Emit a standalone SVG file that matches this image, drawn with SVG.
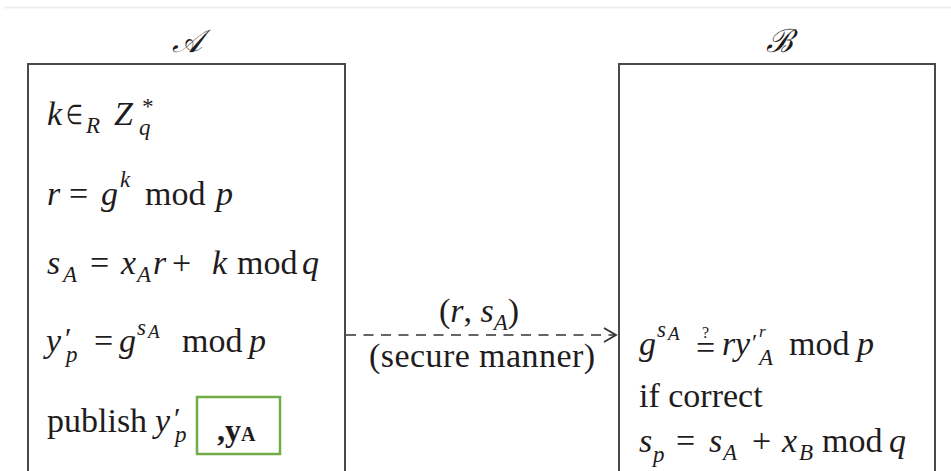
<svg xmlns="http://www.w3.org/2000/svg" width="951" height="471" viewBox="0 0 951 471">
<style>
text{font-family:"Liberation Serif","Times New Roman",serif;fill:#1f1c1d;font-size:34px}
.i{font-style:italic}
.s{font-size:23px;font-style:italic}
.ss{font-size:19px;font-style:italic}
.pr{font-size:30px}
.box{fill:none;stroke:#4a4a4a;stroke-width:2}
.lbl{font-size:32px;font-style:italic}
</style>
<rect width="951" height="471" fill="#fff"/>
<line x1="4" y1="7.5" x2="951" y2="7.5" stroke="#efefef" stroke-width="2"/>
<g id="nodeA">
<text class="lbl" x="187" y="52" text-anchor="middle">𝒜</text>
<rect class="box" x="28" y="64" width="317" height="420"/>
<text class="i" x="47" y="125">k</text>
<text x="66" y="124" style="font-size:27px" textLength="17" lengthAdjust="spacingAndGlyphs">∈</text>
<text class="s" x="86" y="133">R</text>
<text class="i" x="114" y="125">Z</text>
<text class="s" x="139" y="135">q</text>
<text class="s" x="141" y="114">*</text>
<text class="i" x="47" y="205">r</text>
<text x="69" y="205">=</text>
<text class="i" x="101" y="205">g</text>
<text class="s" x="120" y="187">k</text>
<text x="145" y="205">mod</text>
<text class="i" x="216" y="205">p</text>
<text class="i" x="47" y="274">s</text>
<text class="s" x="63" y="282">A</text>
<text x="90" y="274">=</text>
<text class="i" x="121" y="274">x</text>
<text class="s" x="137" y="282">A</text>
<text class="i" x="153" y="274">r</text>
<text x="172" y="274">+</text>
<text class="i" x="212" y="274">k</text>
<text x="237" y="274">mod</text>
<text class="i" x="302" y="274">q</text>
<text class="i" x="46" y="352">y</text>
<text class="pr" x="65" y="348">′</text>
<text class="s" x="66" y="362">p</text>
<text x="94" y="352">=</text>
<text class="i" x="119" y="352">g</text>
<text class="s" x="137" y="335">s</text>
<text class="ss" x="148" y="338">A</text>
<text x="182" y="352">mod</text>
<text class="i" x="249" y="352">p</text>
<text x="47" y="432">publish</text>
<text class="i" x="155" y="432">y</text>
<text class="pr" x="174" y="428">′</text>
<text class="s" x="175" y="442">p</text>
<rect x="197" y="397" width="83" height="57" fill="#fff" stroke="#70ad47" stroke-width="2.5"/>
<text x="217" y="441" style="font-weight:bold;font-size:32px">,y<tspan style="font-size:20px">A</tspan></text>
</g>
<g id="nodeB">
<text class="lbl" x="779" y="52" text-anchor="middle">ℬ</text>
<rect class="box" x="619" y="64" width="316" height="420"/>
<text class="i" x="639" y="355">g</text>
<text class="s" x="657" y="337">s</text>
<text class="ss" x="668" y="340">A</text>
<text x="696" y="359">=</text>
<text style="font-size:16px" x="702" y="338">?</text>
<text class="i" x="722" y="355">r</text>
<text class="i" x="735" y="355">y</text>
<text style="font-size:24px" x="752" y="350">′</text>
<text style="font-size:17px;font-style:italic" x="759" y="337">r</text>
<text class="s" x="759" y="365">A</text>
<text x="789" y="355">mod</text>
<text class="i" x="857" y="355">p</text>
<text x="639" y="407">if correct</text>
<text class="i" x="639" y="452">s</text>
<text class="s" x="653" y="462">p</text>
<text x="676" y="452">=</text>
<text class="i" x="709" y="452">s</text>
<text class="s" x="723" y="460">A</text>
<text x="752" y="452">+</text>
<text class="i" x="782" y="452">x</text>
<text class="s" x="799" y="460">B</text>
<text x="822" y="452">mod</text>
<text class="i" x="889" y="452">q</text>
</g>
<g id="connectors">
<line x1="346" y1="335" x2="615" y2="335" stroke="#333" stroke-width="1.6" stroke-dasharray="10,7.5"/>
<polyline points="604,328 616,335 604,342" fill="none" stroke="#333" stroke-width="1.8"/>
<text x="439" y="322">(<tspan class="i">r</tspan>, <tspan class="i">s</tspan><tspan class="s" dy="8">A</tspan><tspan dy="-8">)</tspan></text>
<text x="369" y="367" textLength="226">(secure manner)</text>
</g>
</svg>
